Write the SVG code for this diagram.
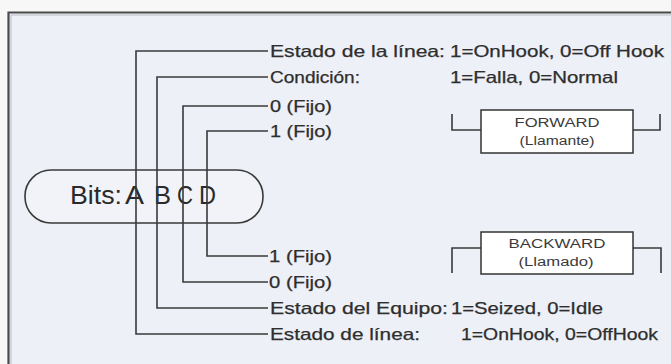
<svg xmlns="http://www.w3.org/2000/svg" width="671" height="364" viewBox="0 0 671 364">
<style>
.ln{fill:none;stroke:#3a3a3a;stroke-width:1.6}
.t{font-family:"Liberation Sans",Arial,sans-serif;font-size:16.5px;fill:#2e2e2e;stroke:#2e2e2e;stroke-width:0.25}
.s{font-family:"Liberation Sans",Arial,sans-serif;font-size:12.5px;fill:#3a3a3a}
.b{font-family:"Liberation Sans",Arial,sans-serif;font-size:26px;fill:#2a2a2a}
.box{fill:#ffffff;stroke:#333;stroke-width:1.5}
</style>
<rect x="0" y="0" width="671" height="364" fill="#f7f7f7"/>
<rect x="8" y="12" width="670" height="360" fill="#edf0f6"/>
<path d="M8.5 364 V12.5 H671" fill="none" stroke="#4a4a4a" stroke-width="2.2"/>
<path d="M11 364 V15 H671" fill="none" stroke="#b8bcc4" stroke-width="1"/>

<g id="pill">
<rect x="25" y="170" width="238" height="53" rx="26" ry="26" fill="#f1f3f8" stroke="#3a3a3a" stroke-width="1.6"/>
<text class="b" x="70" y="204" textLength="52" lengthAdjust="spacingAndGlyphs">Bits:</text>
<text class="b" x="125" y="204" textLength="19" lengthAdjust="spacingAndGlyphs">A</text>
<text class="b" x="154" y="204" textLength="17" lengthAdjust="spacingAndGlyphs">B</text>
<text class="b" x="177" y="204" textLength="16" lengthAdjust="spacingAndGlyphs">C</text>
<text class="b" x="199" y="204" textLength="17" lengthAdjust="spacingAndGlyphs">D</text>
</g>

<g id="connectors">
<path class="ln" d="M268 51 H136 V334 H268"/>
<path class="ln" d="M268 77 H157 V308 H268"/>
<path class="ln" d="M268 106 H183 V282 H268"/>
<path class="ln" d="M268 131 H207 V256 H268"/>
<path class="ln" d="M452 114 V130 H481 M633 130 H660 V114"/>
<path class="ln" d="M452 273 V248 H481 M633 248 H661 V273"/>
</g>

<g id="top-labels">
<text class="t" x="270" y="57" textLength="175" lengthAdjust="spacingAndGlyphs">Estado de la línea:</text>
<text class="t" x="450" y="57" textLength="214" lengthAdjust="spacingAndGlyphs">1=OnHook, 0=Off Hook</text>
<text class="t" x="270" y="83" textLength="90" lengthAdjust="spacingAndGlyphs">Condición:</text>
<text class="t" x="450" y="83" textLength="168" lengthAdjust="spacingAndGlyphs">1=Falla, 0=Normal</text>
<text class="t" x="270" y="112" textLength="62" lengthAdjust="spacingAndGlyphs">0 (Fijo)</text>
<text class="t" x="270" y="137" textLength="62" lengthAdjust="spacingAndGlyphs">1 (Fijo)</text>
</g>

<g id="bottom-labels">
<text class="t" x="269" y="262" textLength="63" lengthAdjust="spacingAndGlyphs">1 (Fijo)</text>
<text class="t" x="269" y="288" textLength="63" lengthAdjust="spacingAndGlyphs">0 (Fijo)</text>
<text class="t" x="270" y="314" textLength="178" lengthAdjust="spacingAndGlyphs">Estado del Equipo:</text>
<text class="t" x="451" y="314" textLength="152" lengthAdjust="spacingAndGlyphs">1=Seized, 0=Idle</text>
<text class="t" x="270" y="340" textLength="150" lengthAdjust="spacingAndGlyphs">Estado de línea:</text>
<text class="t" x="461" y="340" textLength="197" lengthAdjust="spacingAndGlyphs">1=OnHook, 0=OffHook</text>
</g>

<g id="forward">
<rect class="box" x="481" y="110" width="152" height="43"/>
<text class="s" x="557" y="127" text-anchor="middle" textLength="85" lengthAdjust="spacingAndGlyphs">FORWARD</text>
<text class="s" x="557" y="145" text-anchor="middle" textLength="75" lengthAdjust="spacingAndGlyphs">(Llamante)</text>
</g>

<g id="backward">
<rect class="box" x="481" y="232" width="152" height="42"/>
<text class="s" x="557" y="248" text-anchor="middle" textLength="97" lengthAdjust="spacingAndGlyphs">BACKWARD</text>
<text class="s" x="556" y="266" text-anchor="middle" textLength="75" lengthAdjust="spacingAndGlyphs">(Llamado)</text>
</g>
</svg>
